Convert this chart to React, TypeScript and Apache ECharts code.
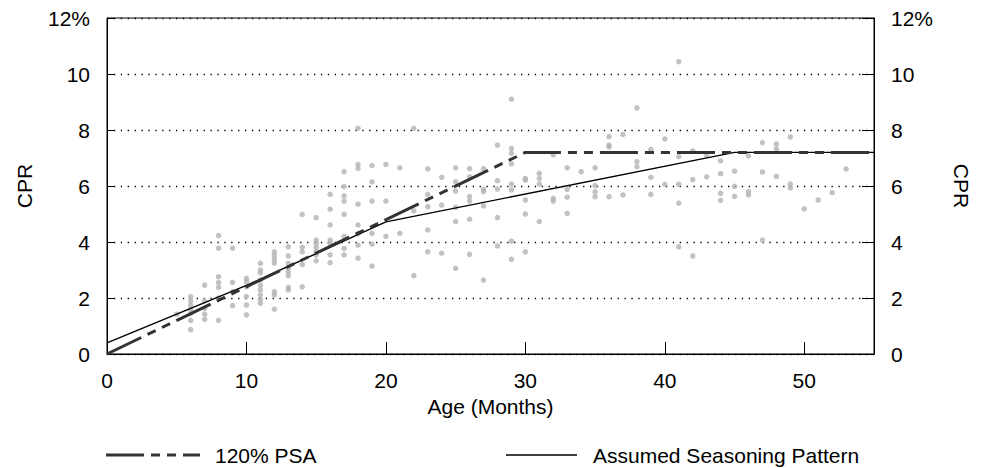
import React, { useEffect, useRef } from "react";
import * as echarts from "echarts";

// Age ticks / CPR ticks
const xMin = 0;
const xMax = 55;
const xInterval = 10;
const yMin = 0;
const yMax = 12;
const yInterval = 2;

// 120% PSA benchmark (age in months, CPR %)
const psaAges = [0, 30, 55];
const psaCpr = [0, 7.2, 7.2];

// Assumed seasoning pattern
const seasonAges = [0, 10, 20, 45, 55];
const seasonCpr = [0.4, 2.45, 4.72, 7.2, 7.2];

// Observed CPRs, one list per month of age, starting at month 5
const obsStartMonth = 5;
const obsCpr: number[][] = [
  [1.42],
  [2.05, 1.9, 1.75, 1.6, 1.45, 1.2, 0.87],
  [2.46, 1.9, 1.63, 1.42, 1.24],
  [4.23, 3.78, 2.76, 2.55, 2.38, 2.0, 1.2],
  [3.78, 2.56, 2.23, 1.73],
  [2.7, 2.58, 2.4, 2.05, 1.75, 1.4],
  [3.24, 3.0, 2.9, 2.64, 2.45, 2.29, 2.11, 1.95, 1.81],
  [3.65, 3.52, 3.39, 3.25, 2.23, 2.11, 1.6],
  [3.83, 3.5, 3.24, 3.08, 2.94, 2.8, 2.38, 2.29],
  [4.99, 3.81, 3.65, 3.2, 2.4],
  [4.87, 4.07, 3.95, 3.8, 3.65, 3.54, 3.33],
  [5.7, 5.17, 4.61, 4.07, 3.95, 3.54, 3.26],
  [6.51, 5.98, 5.65, 5.46, 4.99, 4.2, 3.77, 3.54],
  [8.06, 6.77, 6.63, 5.35, 4.61, 4.3, 3.89, 3.42],
  [6.73, 6.15, 5.46, 4.31, 3.92, 3.14],
  [6.77, 5.46, 4.2],
  [6.65, 4.31],
  [8.06, 5.11, 2.8],
  [6.61, 5.7, 5.26, 4.43, 3.65],
  [6.31, 5.32, 3.6],
  [6.65, 6.15, 5.82, 5.24, 4.73, 3.06],
  [6.62, 6.33, 5.62, 5.46, 4.81, 3.56],
  [6.62, 5.88, 5.8, 5.29, 2.64],
  [7.46, 6.19, 5.89, 4.87, 3.86],
  [9.1, 7.34, 7.17, 6.79, 6.07, 5.86, 4.03, 3.38],
  [6.27, 6.21, 5.5, 5.0, 3.65],
  [6.45, 6.27, 6.07, 4.73],
  [7.11, 5.56, 5.46],
  [6.65, 5.88, 5.6, 5.02],
  [6.51],
  [6.65, 6.01, 5.79, 5.62],
  [7.76, 7.46, 7.4, 5.62],
  [7.84, 5.68],
  [8.79, 6.87, 6.69],
  [7.31, 6.31, 5.7],
  [7.68, 6.06],
  [10.44, 7.05, 6.06, 5.39, 3.83],
  [7.25, 6.23, 3.5],
  [7.1, 6.33],
  [6.9, 6.44, 5.74, 5.49],
  [6.53, 5.99, 5.63],
  [7.08, 5.8, 5.68],
  [7.55, 6.5, 4.07],
  [7.5, 7.33, 6.34],
  [7.75, 6.07, 5.93],
  [5.18],
  [5.5],
  [5.76],
  [6.61],
];

const psaName = "120% PSA";
const seasonName = "Assumed Seasoning Pattern";
const xName = "Age (Months)";
const yName = "CPR";

const FONT = "'Liberation Sans', Arial, Helvetica, sans-serif";
const PSA_DASH = [38, 7, 9, 7, 9, 7];

export default function App() {
  const ref = useRef<HTMLDivElement>(null);

  useEffect(() => {
    document.body.style.margin = "0";
    if (!ref.current) return;
    const chart = echarts.init(ref.current, null, { renderer: "svg" });

    const scatterData: number[][] = [];
    obsCpr.forEach((vals, i) => {
      vals.forEach((v) => scatterData.push([obsStartMonth + i, v]));
    });
    const psaData = psaAges.map((a, i) => [a, psaCpr[i]]);
    const seasonData = seasonAges.map((a, i) => [a, seasonCpr[i]]);

    const labelStyle = { color: "#000", fontSize: 21, fontFamily: FONT };
    const yFmt = (v: number) => (v === yMax ? `${v}%` : `${v}`);
    const legendY = 455;

    const option: any = {
      animation: false,
      backgroundColor: "#fff",
      textStyle: { fontFamily: FONT },
      grid: {
        left: 107,
        right: 107,
        top: 18,
        bottom: 114,
        show: true,
        borderColor: "#000",
        borderWidth: 1,
        backgroundColor: "transparent",
      },
      graphic: [
        {
          type: "line",
          shape: { x1: 106, y1: legendY, x2: 200, y2: legendY },
          style: { stroke: "#333", lineWidth: 3, lineDash: PSA_DASH },
          silent: true,
        },
        {
          type: "text",
          x: 215,
          y: legendY,
          style: {
            text: psaName,
            fill: "#000",
            font: `21px ${FONT}`,
            textVerticalAlign: "middle",
            verticalAlign: "middle",
          },
          silent: true,
        },
        {
          type: "line",
          shape: { x1: 506, y1: legendY, x2: 577, y2: legendY },
          style: { stroke: "#000", lineWidth: 1.4 },
          silent: true,
        },
        {
          type: "text",
          x: 593,
          y: legendY,
          style: {
            text: seasonName,
            fill: "#000",
            font: `21px ${FONT}`,
            textVerticalAlign: "middle",
            verticalAlign: "middle",
          },
          silent: true,
        },
      ],
      xAxis: {
        type: "value",
        min: xMin,
        max: xMax,
        interval: xInterval,
        name: xName,
        nameLocation: "middle",
        nameGap: 41,
        nameTextStyle: labelStyle,
        axisLine: { show: true, lineStyle: { color: "#000", width: 1 } },
        axisTick: { show: true, inside: true, length: 12, lineStyle: { color: "#000" } },
        axisLabel: { ...labelStyle, margin: 16, showMaxLabel: false },
        splitLine: { show: false },
      },
      yAxis: [
        {
          type: "value",
          position: "left",
          min: yMin,
          max: yMax,
          interval: yInterval,
          name: yName,
          nameLocation: "middle",
          nameRotate: 90,
          nameGap: 72,
          nameTextStyle: labelStyle,
          axisLine: { show: true, lineStyle: { color: "#000", width: 1 } },
          axisTick: { show: true, inside: true, length: 7, lineStyle: { color: "#000" } },
          axisLabel: { ...labelStyle, margin: 17, formatter: yFmt },
          splitLine: {
            show: true,
            lineStyle: { color: "#000", width: 1.3, type: [1.3, 5.6] },
          },
        },
        {
          type: "value",
          position: "right",
          min: yMin,
          max: yMax,
          interval: yInterval,
          name: yName,
          nameLocation: "middle",
          nameRotate: -90,
          nameGap: 77,
          nameTextStyle: labelStyle,
          axisLine: { show: true, lineStyle: { color: "#000", width: 1 } },
          axisTick: { show: true, inside: true, length: 12, lineStyle: { color: "#000" } },
          axisLabel: { ...labelStyle, margin: 17, formatter: yFmt },
          splitLine: { show: false },
        },
      ],
      series: [
        {
          name: "Observed",
          type: "scatter",
          data: scatterData,
          symbol: "circle",
          symbolSize: 5.5,
          itemStyle: { color: "#b3b3b3" },
          silent: true,
          z: 2,
        },
        {
          name: seasonName,
          type: "line",
          data: seasonData,
          symbol: "none",
          showSymbol: false,
          lineStyle: { color: "#000", width: 1.4, type: "solid" },
          itemStyle: { color: "#000" },
          z: 3,
        },
        {
          name: psaName,
          type: "line",
          data: psaData,
          symbol: "none",
          showSymbol: false,
          lineStyle: { color: "#333", width: 3, type: PSA_DASH },
          itemStyle: { color: "#333" },
          z: 4,
        },
      ],
    };

    chart.setOption(option);
    return () => chart.dispose();
  }, []);

  return <div ref={ref} style={{ width: 981, height: 468 }} />;
}
